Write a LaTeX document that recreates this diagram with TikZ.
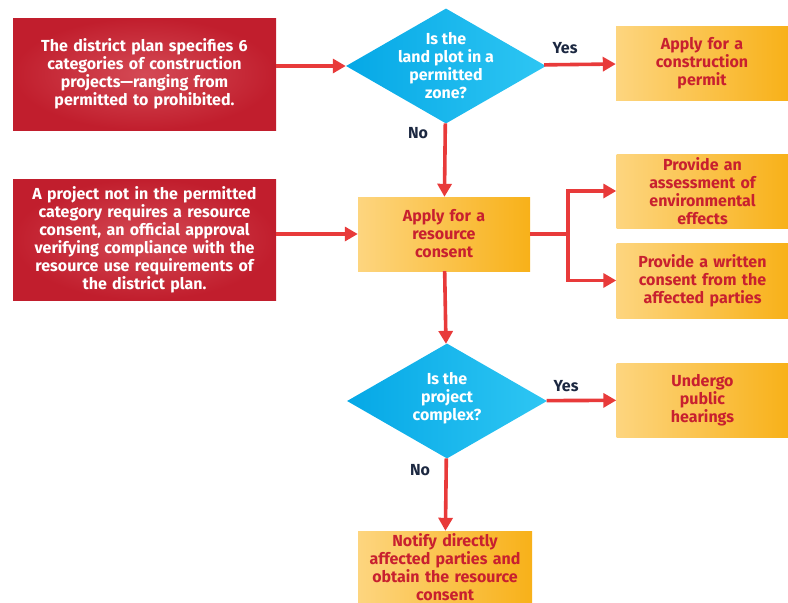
\documentclass[tikz,border=0pt]{standalone}
\usepackage{fontspec}
\setmainfont{Fira Sans}
\usetikzlibrary{shapes.geometric,arrows.meta}

\definecolor{planred}{HTML}{C11E2D}
\definecolor{planredL}{HTML}{D44A55}
\definecolor{stepL}{HTML}{FDD57F}
\definecolor{stepD}{HTML}{F8B119}
\definecolor{askL}{HTML}{05A8E6}
\definecolor{askR}{HTML}{2EC6F3}
\definecolor{textred}{HTML}{C8202F}
\definecolor{navy}{HTML}{1C2841}
\definecolor{arrowred}{HTML}{E83A3A}

\begin{document}
\begin{tikzpicture}[x=1pt,y=-1pt,font=\bfseries\fontsize{16}{18}\selectfont,
  note/.style={rectangle,inner sep=2pt,align=center,text=white,shading=radial,
    inner color=planredL,outer color=planred,minimum width=263pt},
  stepbox/.style={rectangle,inner sep=2pt,align=center,text=textred,
    left color=stepL,middle color=stepL!95!stepD,right color=stepD,
    minimum width=172pt,minimum height=74pt,text width=166pt},
  ask/.style={diamond,inner sep=0pt,left color=askL,right color=askR,
    minimum width=200pt,minimum height=115pt},
  asktext/.style={align=center,text=white,inner sep=0pt},
  answer/.style={text=navy},
  flow/.style={arrowred,line width=3.6pt,-{Triangle[length=13pt,width=14pt]}}]
\useasboundingbox (0,0) rectangle (788,603);

\node[note,minimum height=112pt,text width=250pt] (plan) at (144.5,74)
  {The district plan specifies 6\\categories of construction\\projects---ranging from\\permitted to prohibited.};
\node[note,minimum height=121pt,text width=256pt] (notperm) at (144.5,239.5)
  {A project not in the permitted\\category requires a resource\\consent, an official approval\\verifying compliance with the\\resource use requirements of\\the district plan.};

\node[ask] (zone) at (446,66) {};
\node[asktext] (zonetext) at (zone.center) {Is the\\land plot in a\\permitted\\zone?};
\node[ask] (complex) at (447,401) {};
\node[asktext] (complextext) at ([yshift=3pt]complex.center) {Is the\\project\\complex?};

\node[stepbox] (permit) at (702,63) {Apply for a\\construction\\permit};
\node[stepbox] (consent) at (444,234) {Apply for a\\resource\\consent};
\node[stepbox] (assess) at (702.5,191) {Provide an\\assessment of\\environmental\\effects};
\node[stepbox,minimum height=75pt] (written) at (702.5,280.5) {Provide a written\\consent from the\\affected parties};
\node[stepbox] (hearing) at (702.5,400) {Undergo\\public\\hearings};
\node[stepbox,minimum width=174pt,minimum height=72pt] (notify) at (445,567) {Notify directly\\affected parties and\\obtain the resource\\consent};

\node[answer] (yes1) at (565,48) {Yes};
\node[answer] (no1) at (418,133) {No};
\node[answer] (yes2) at (566,386) {Yes};
\node[answer] (no2) at (420,470) {No};

% connectors
\draw[flow] (plan.east |- zone) -- (zone);
\draw[flow] (zone) -- (permit);
\draw[flow] (zone) -- (consent);
\draw[flow] (notperm.east |- consent) -- (consent);
\draw[arrowred,line width=3.6pt] (consent.east) -- ++(38,0) coordinate (split);
\foreach \dest in {assess,written}{\draw[flow] (split) |- (\dest);}
\draw[flow] (consent) -- (complex);
\draw[flow] (complex) -- (hearing);
\draw[flow] (complex) -- (notify);

\end{tikzpicture}
\end{document}
